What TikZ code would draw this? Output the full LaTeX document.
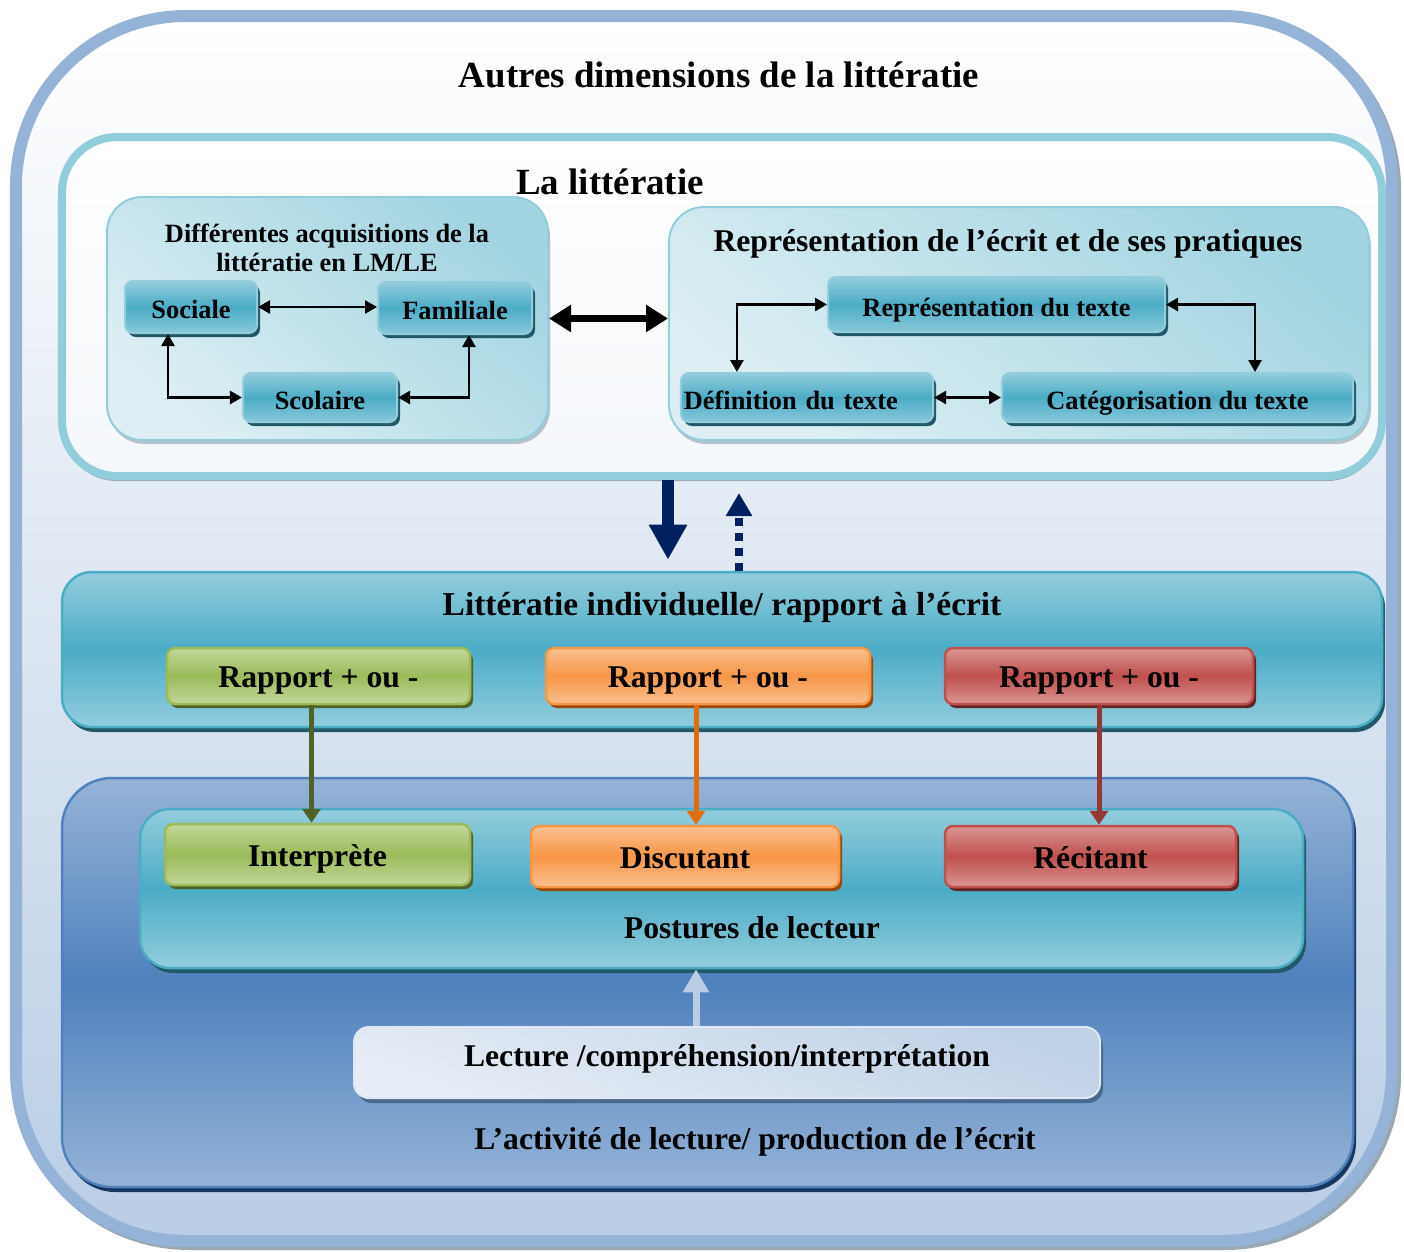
\documentclass[tikz,border=0pt]{standalone}
\usepackage{fontspec}
\setmainfont{Liberation Serif}
\usetikzlibrary{arrows.meta,shadows,calc}

\definecolor{frameblue}{HTML}{95B3D7}
\definecolor{paleblue}{HTML}{B9CDE5}
\definecolor{tealpale}{HTML}{93CDDD}
\definecolor{tealmid}{HTML}{4BACC6}
\definecolor{tealdark}{HTML}{215968}
\definecolor{tealline}{HTML}{92CDDC}
\definecolor{tealwash}{HTML}{DDEFF4}
\definecolor{greenpale}{HTML}{C3D69B}
\definecolor{greenmid}{HTML}{9BBB59}
\definecolor{greendark}{HTML}{4F6228}
\definecolor{orangepale}{HTML}{FAC090}
\definecolor{orangemid}{HTML}{F79646}
\definecolor{orangedark}{HTML}{984807}
\definecolor{orangearrow}{HTML}{E46C0A}
\definecolor{redpale}{HTML}{D99694}
\definecolor{redmid}{HTML}{C0504D}
\definecolor{reddark}{HTML}{632523}
\definecolor{redarrow}{HTML}{953735}
\definecolor{bluemid}{HTML}{4F81BD}
\definecolor{bluedark}{HTML}{17375E}
\definecolor{navy}{HTML}{002060}
\definecolor{greyshadow}{HTML}{9AA8B4}
\definecolor{lectwash}{HTML}{DCE6F2}

\tikzset{
  sz/.style 2 args={minimum width=#1*0.01cm, minimum height=#2*0.01cm, inner sep=0pt},
  capcentre/.style={text height=0.66em, text depth=0pt},
  ftitle/.style={font=\fontsize{10.5}{12}\selectfont\bfseries},
  fmid/.style={font=\fontsize{9}{10.5}\selectfont\bfseries},
  fbig/.style={font=\fontsize{9.5}{11}\selectfont\bfseries},
  fsmall/.style={font=\fontsize{7.5}{8.25}\selectfont\bfseries},
  washbox/.style={draw=tealline, line width=0.02cm, rounded corners=0.35cm,
    bottom color=tealwash, top color=tealline!85!white, shading angle=-40,
    drop shadow={shadow xshift=0.02cm, shadow yshift=-0.04cm, fill=greyshadow!70!white, opacity=1}},
  tealbox/.style={capcentre, draw=tealmid!60!white, line width=0.02cm, rounded corners=0.08cm,
    top color=tealpale, bottom color=tealpale!85!tealmid, middle color=tealmid,
    drop shadow={shadow xshift=0.03cm, shadow yshift=-0.04cm, fill=tealdark, opacity=1}},
  tealpanel/.style={draw=tealmid, line width=0.025cm, rounded corners=0.3cm,
    top color=tealpale, bottom color=tealpale, middle color=tealmid,
    drop shadow={shadow xshift=0.03cm, shadow yshift=-0.05cm, fill=tealdark, opacity=1}},
  greenbox/.style={capcentre, draw=greenmid, line width=0.025cm, rounded corners=0.08cm,
    top color=greenpale, bottom color=greenpale, middle color=greenmid,
    drop shadow={shadow xshift=0.03cm, shadow yshift=-0.04cm, fill=greendark, opacity=1}},
  orangebox/.style={capcentre, draw=orangemid, line width=0.025cm, rounded corners=0.08cm,
    top color=orangepale, bottom color=orangepale, middle color=orangemid,
    drop shadow={shadow xshift=0.03cm, shadow yshift=-0.04cm, fill=orangedark, opacity=1}},
  redbox/.style={capcentre, draw=redmid, line width=0.025cm, rounded corners=0.08cm,
    top color=redpale, bottom color=redpale, middle color=redmid,
    drop shadow={shadow xshift=0.03cm, shadow yshift=-0.04cm, fill=reddark, opacity=1}},
  blk/.style={line width=0.025cm, >={Triangle[length=0.12cm,width=0.13cm]}},
  fat/.style={line width=0.07cm, >={Triangle[length=0.22cm,width=0.26cm]}},
  drop/.style={line width=0.05cm, >={Triangle[length=0.14cm,width=0.18cm]}},
}

\begin{document}
\begin{tikzpicture}[x=0.01cm,y=-0.01cm]
  \useasboundingbox (0,0) rectangle (1404,1251);
  \fill[white] (0,0) rectangle (1404,1251);

  % outer frame with its soft grey shadow
  \draw[line width=0.12cm, greyshadow, rounded corners=1.7cm] (19,19) rectangle (1395,1244);
  \draw[line width=0.12cm, draw=frameblue, top color=white, bottom color=paleblue,
        rounded corners=1.7cm] (16,16) rectangle (1392,1241);
  \node[ftitle] (tdim) at (719,75) {Autres dimensions de la littératie};

  % upper panel: la littératie
  \node[sz={1320}{339}, draw=tealline, line width=0.08cm, rounded corners=0.55cm,
        top color=white, bottom color=white!85!paleblue,
        drop shadow={shadow xshift=0cm, shadow yshift=-0.05cm, fill=greyshadow, opacity=1}]
        (litbox) at (722,306.5) {};
  \node[ftitle] (tlit) at (610,182) {La littératie};

  % acquisitions
  \node[sz={441}{243}, washbox] (diffbox) at (327.5,318.5) {};
  \node[fsmall, align=center] (tdiff) at (327,247.5) {Différentes acquisitions de la\\littératie en LM/LE};
  \node[sz={132}{52}, tealbox, fsmall] (sociale) at (191,307) {Sociale};
  \node[sz={154}{52}, tealbox, fsmall] (familiale) at (455,308) {Familiale};
  \node[sz={154}{49}, tealbox, fsmall] (scolaire) at (320,397.5) {Scolaire};

  % representations
  \node[sz={700}{233}, washbox] (reprbox) at (1019,323.5) {};
  \node[fmid] (trepr) at (1008,244) {Représentation de l’écrit et de ses pratiques};
  \node[sz={337}{55}, tealbox, fsmall] (reprtexte) at (996.5,304.5) {Représentation du texte};
  \node[sz={252}{49}, tealbox, fsmall, text width=2.46cm, align=left, inner xsep=0.03cm]
        (deftexte) at (807,397.5) {Définition du texte};
  \node[sz={351}{49}, tealbox, fsmall] (cattexte) at (1177.5,397.5) {Catégorisation du texte};

  % individual literacy
  \node[sz={1320}{155}, tealpanel] (indbox) at (722,649.5) {};
  \node[fbig] (tind) at (722,607) {Littératie individuelle/ rapport à l’écrit};
  \node[sz={303}{56}, greenbox, fmid] (rapg) at (318.5,676) {Rapport + ou -};
  \node[sz={324}{56}, orangebox, fmid] (rapo) at (708,676) {Rapport + ou -};
  \node[sz={308}{56}, redbox, fmid] (rapr) at (1099,676) {Rapport + ou -};

  % reading activity
  \node[sz={1291}{409}, draw=bluemid, line width=0.025cm, rounded corners=0.5cm,
        top color=frameblue, bottom color=frameblue, middle color=bluemid,
        drop shadow={shadow xshift=0.03cm, shadow yshift=-0.05cm, fill=bluedark, opacity=1}]
        (actbox) at (707.5,982.5) {};
  \node[sz={1163}{159}, tealpanel] (posbox) at (721.5,888.5) {};
  \node[sz={305}{61}, greenbox, fmid] (interp) at (317.5,854.5) {Interprète};
  \node[sz={308}{61}, orangebox, fmid] (discut) at (685,856.5) {Discutant};
  \node[sz={291}{61}, redbox, fmid] (recit) at (1090.5,856.5) {Récitant};
  \node[fmid] (tpos) at (752,928) {Postures de lecteur};
  \node[sz={746}{71}, draw=white!70!frameblue, line width=0.02cm, rounded corners=0.15cm,
        bottom color=lectwash!70!white, top color=frameblue!60!white, shading angle=-20,
        drop shadow={shadow xshift=0.03cm, shadow yshift=-0.05cm, fill=bluedark!60!frameblue, opacity=1}]
        (lectbox) at (727,1062.5) {};
  \node[fmid] (tlect) at (727,1059) {Lecture /compréhension/interprétation};
  \node[fmid] (tact) at (755,1142) {L’activité de lecture/ production de l’écrit};

  % connectors inside the acquisitions panel
  \draw[blk, <->] (sociale.east) -- (sociale.east -| familiale.west);
  \draw[blk, <->] ($(sociale.south)+(-23,0)$) |- (scolaire.west);
  \draw[blk, <->] ($(familiale.south)+(14,0)$) |- (scolaire.east);

  % connectors inside the representations panel
  \draw[blk, <->] (reprtexte.west) -| ($(deftexte.north west)+(57,0)$);
  \draw[blk, <->] (reprtexte.east) -| ($(cattexte.north west)+(254,0)$);
  \draw[blk, <->] (deftexte.east) -- (cattexte.west);

  % link between the two panels
  \draw[fat, <->] (diffbox.east) -- (diffbox.east -| reprbox.west);

  % exchanges between the panel and the individual literacy
  \coordinate (dn) at ($(litbox.south)+(-54,0)$);
  \draw[navy, line width=0.12cm, -{Triangle[length=0.35cm,width=0.36cm]}, shorten >=0.11cm]
        (dn) -- (dn |- indbox.north);
  \coordinate (up) at ($(indbox.north)+(17,0)$);
  \draw[navy, line width=0.08cm, dash pattern=on 0.08cm off 0.07cm,
        -{Triangle[length=0.23cm,width=0.25cm]}, shorten >=0.13cm]
        (up) -- (up |- litbox.south);

  % from each relation to its reading posture
  \coordinate (ga) at ($(rapg.south)+(-7,0)$);
  \draw[drop, greendark, ->] (ga) -- (ga |- interp.north);
  \coordinate (oa) at ($(rapo.south)+(-12,0)$);
  \draw[drop, orangearrow, ->] (oa) -- (oa |- discut.north);
  \draw[drop, redarrow, ->] (rapr.south) -- (rapr.south |- recit.north);

  % reading feeds the postures
  \coordinate (la) at ($(lectbox.north)+(-31,0)$);
  \draw[paleblue, line width=0.07cm, -{Triangle[length=0.23cm,width=0.25cm]}]
        (la) -- (la |- posbox.south);
\end{tikzpicture}
\end{document}
